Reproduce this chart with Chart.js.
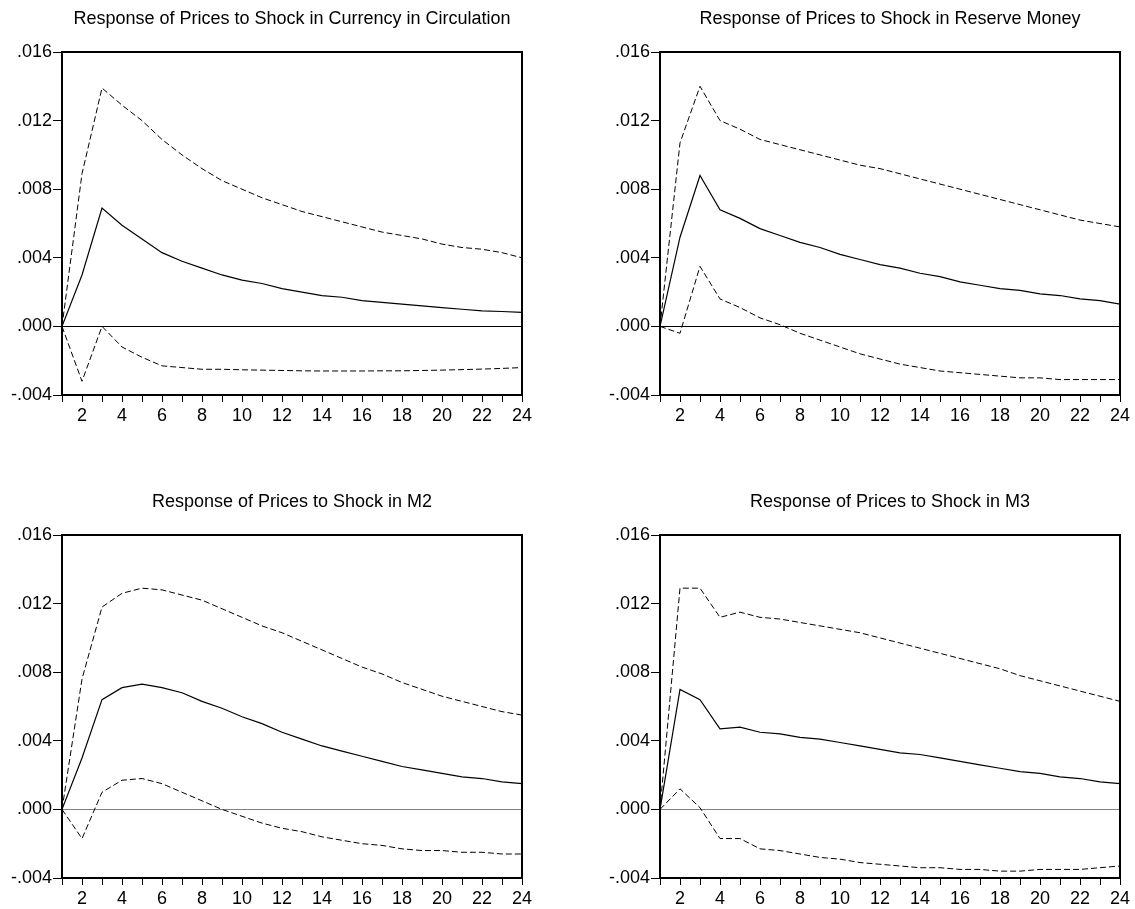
<!DOCTYPE html>
<html>
<head>
<meta charset="utf-8">
<script src="https://cdn.jsdelivr.net/npm/chart.js@4"></script>
<style>
html, body { margin: 0; padding: 0; background: #fff; overflow: hidden; }
#wrap { position: relative; width: 1135px; height: 909px; overflow: hidden; }
canvas { position: absolute; }
</style>
</head>
<body>
<div id="wrap">
    <canvas id="c1" width="584" height="435" style="left:0px;top:0px"></canvas>
    <canvas id="c2" width="584" height="435" style="left:598px;top:0px"></canvas>
    <canvas id="c3" width="584" height="435" style="left:0px;top:483px"></canvas>
    <canvas id="c4" width="584" height="435" style="left:598px;top:483px"></canvas>
</div>
<script>
// Data
const periods = [1,2,3,4,5,6,7,8,9,10,11,12,13,14,15,16,17,18,19,20,21,22,23,24];
const xTickLabels = [2,4,6,8,10,12,14,16,18,20,22,24];
const yTickValues = [-0.004, 0, 0.004, 0.008, 0.012, 0.016];

const titles = [
    "Response of Prices to Shock in Currency in Circulation",
    "Response of Prices to Shock in Reserve Money",
    "Response of Prices to Shock in M2",
    "Response of Prices to Shock in M3"
];

// currency in circulation
const ccUpper = [0, 0.0089, 0.0139, 0.0129, 0.0120, 0.0109, 0.0100, 0.0092, 0.0085, 0.0080, 0.0075, 0.0071, 0.0067, 0.0064, 0.0061, 0.0058, 0.0055, 0.0053, 0.0051, 0.0048, 0.0046, 0.0045, 0.0043, 0.0040];
const ccMid   = [0, 0.0030, 0.0069, 0.0059, 0.0051, 0.0043, 0.0038, 0.0034, 0.0030, 0.0027, 0.0025, 0.0022, 0.0020, 0.0018, 0.0017, 0.0015, 0.0014, 0.0013, 0.0012, 0.0011, 0.0010, 0.0009, 0.00087, 0.00082];
const ccLower = [0, -0.0032, 0.0000, -0.0012, -0.0018, -0.0023, -0.0024, -0.0025, -0.0025, -0.00253, -0.00255, -0.00257, -0.00259, -0.0026, -0.0026, -0.0026, -0.00259, -0.00259, -0.00257, -0.00255, -0.00252, -0.00249, -0.00245, -0.0024];

// reserve money
const rmUpper = [0, 0.0107, 0.0140, 0.0120, 0.0115, 0.0109, 0.0106, 0.0103, 0.0100, 0.0097, 0.0094, 0.0092, 0.0089, 0.0086, 0.0083, 0.0080, 0.0077, 0.0074, 0.0071, 0.0068, 0.0065, 0.0062, 0.0060, 0.0058];
const rmMid   = [0, 0.0052, 0.0088, 0.0068, 0.0063, 0.0057, 0.0053, 0.0049, 0.0046, 0.0042, 0.0039, 0.0036, 0.0034, 0.0031, 0.0029, 0.0026, 0.0024, 0.0022, 0.0021, 0.0019, 0.0018, 0.0016, 0.0015, 0.0013];
const rmLower = [0, -0.0004, 0.0035, 0.0016, 0.0011, 0.0005, 0.0001, -0.0004, -0.0008, -0.0012, -0.0016, -0.0019, -0.0022, -0.0024, -0.0026, -0.0027, -0.0028, -0.0029, -0.0030, -0.0030, -0.0031, -0.0031, -0.0031, -0.0031];

// M2
const m2Upper = [0, 0.0076, 0.0118, 0.0126, 0.0129, 0.0128, 0.0125, 0.0122, 0.0117, 0.0112, 0.0107, 0.0103, 0.0098, 0.0093, 0.0088, 0.0083, 0.0079, 0.0074, 0.0070, 0.0066, 0.0063, 0.0060, 0.0057, 0.0055];
const m2Mid   = [0, 0.0030, 0.0064, 0.0071, 0.0073, 0.0071, 0.0068, 0.0063, 0.0059, 0.0054, 0.0050, 0.0045, 0.0041, 0.0037, 0.0034, 0.0031, 0.0028, 0.0025, 0.0023, 0.0021, 0.0019, 0.0018, 0.0016, 0.0015];
const m2Lower = [0, -0.0017, 0.0010, 0.0017, 0.0018, 0.0015, 0.0010, 0.0005, 0.0000, -0.0004, -0.0008, -0.0011, -0.0013, -0.0016, -0.0018, -0.0020, -0.0021, -0.0023, -0.0024, -0.0024, -0.0025, -0.0025, -0.0026, -0.0026];

// M3
const m3Upper = [0, 0.0129, 0.0129, 0.0112, 0.0115, 0.0112, 0.0111, 0.0109, 0.0107, 0.0105, 0.0103, 0.0100, 0.0097, 0.0094, 0.0091, 0.0088, 0.0085, 0.0082, 0.0078, 0.0075, 0.0072, 0.0069, 0.0066, 0.0063];
const m3Mid   = [0, 0.0070, 0.0064, 0.0047, 0.0048, 0.0045, 0.0044, 0.0042, 0.0041, 0.0039, 0.0037, 0.0035, 0.0033, 0.0032, 0.0030, 0.0028, 0.0026, 0.0024, 0.0022, 0.0021, 0.0019, 0.0018, 0.0016, 0.0015];
const m3Lower = [0, 0.0012, 0.0001, -0.0017, -0.0017, -0.0023, -0.0024, -0.0026, -0.0028, -0.0029, -0.0031, -0.0032, -0.0033, -0.0034, -0.0034, -0.0035, -0.0035, -0.0036, -0.0036, -0.0035, -0.0035, -0.0035, -0.0034, -0.0033];

const fontFamily = "'Liberation Sans', Arial, sans-serif";

// box around plot area
const framePlugin = {
    id: "frame",
    afterDatasetsDraw(chart) {
        const a = chart.chartArea;
        const c = chart.ctx;
        c.save();
        c.strokeStyle = "#000";
        c.lineWidth = 2;
        c.strokeRect(a.left, a.top, a.right - a.left, a.bottom - a.top);
        c.restore();
    }
};

function pts(arr) {
    return periods.map((p, i) => ({ x: p, y: arr[i] }));
}

function fmt(v) {
    return Number(v).toFixed(3).replace("0.", ".");
}

function makePanel(id, title, upper, mid, lower, zeroColor) {
    new Chart(document.getElementById(id), {
        type: "line",
        data: {
            datasets: [
                { data: pts(upper), borderColor: "#000", borderWidth: 1, borderDash: [6, 3], pointRadius: 0, tension: 0 },
                { data: pts(mid), borderColor: "#000", borderWidth: 1.2, pointRadius: 0, tension: 0 },
                { data: pts(lower), borderColor: "#000", borderWidth: 1, borderDash: [6, 3], pointRadius: 0, tension: 0 }
            ]
        },
        options: {
            responsive: false,
            animation: false,
            plugins: {
                legend: { display: false },
                tooltip: { enabled: false },
                title: {
                    display: true,
                    text: title,
                    color: "#000",
                    font: { family: fontFamily, size: 18, weight: "normal" },
                    padding: { top: 8, bottom: 22.4 }
                }
            },
            scales: {
                x: {
                    type: "linear",
                    min: 1,
                    max: 24,
                    afterBuildTicks: s => { s.ticks = periods.map(v => ({ value: v })); },
                    afterFit: s => { s.height = 40; },
                    grid: { drawOnChartArea: false, tickColor: "#000", tickLength: 7 },
                    border: { display: false },
                    ticks: {
                        autoSkip: false,
                        maxRotation: 0,
                        color: "#000",
                        padding: 3,
                        font: { family: fontFamily, size: 18 },
                        callback: v => xTickLabels.includes(v) ? String(v) : ""
                    }
                },
                y: {
                    min: -0.004,
                    max: 0.016,
                    afterBuildTicks: s => { s.ticks = yTickValues.map(v => ({ value: v })); },
                    afterFit: s => { s.width = 62; },
                    grid: {
                        color: c => (c.tick && c.tick.value === 0) ? zeroColor : "rgba(0,0,0,0)",
                        tickColor: "#000",
                        tickLength: 9,
                        lineWidth: 1
                    },
                    border: { display: false },
                    ticks: {
                        color: "#000",
                        padding: 1,
                        font: { family: fontFamily, size: 18 },
                        callback: v => fmt(v)
                    }
                },
                yRight: {
                    type: "linear",
                    position: "right",
                    afterFit: s => { s.width = 62; },
                    grid: { display: false },
                    border: { display: false },
                    ticks: { display: false }
                }
            }
        },
        plugins: [framePlugin]
    });
}

makePanel("c1", titles[0], ccUpper, ccMid, ccLower, "#000");
makePanel("c2", titles[1], rmUpper, rmMid, rmLower, "#000");
makePanel("c3", titles[2], m2Upper, m2Mid, m2Lower, "#808080");
makePanel("c4", titles[3], m3Upper, m3Mid, m3Lower, "#808080");
</script>
</body>
</html>
